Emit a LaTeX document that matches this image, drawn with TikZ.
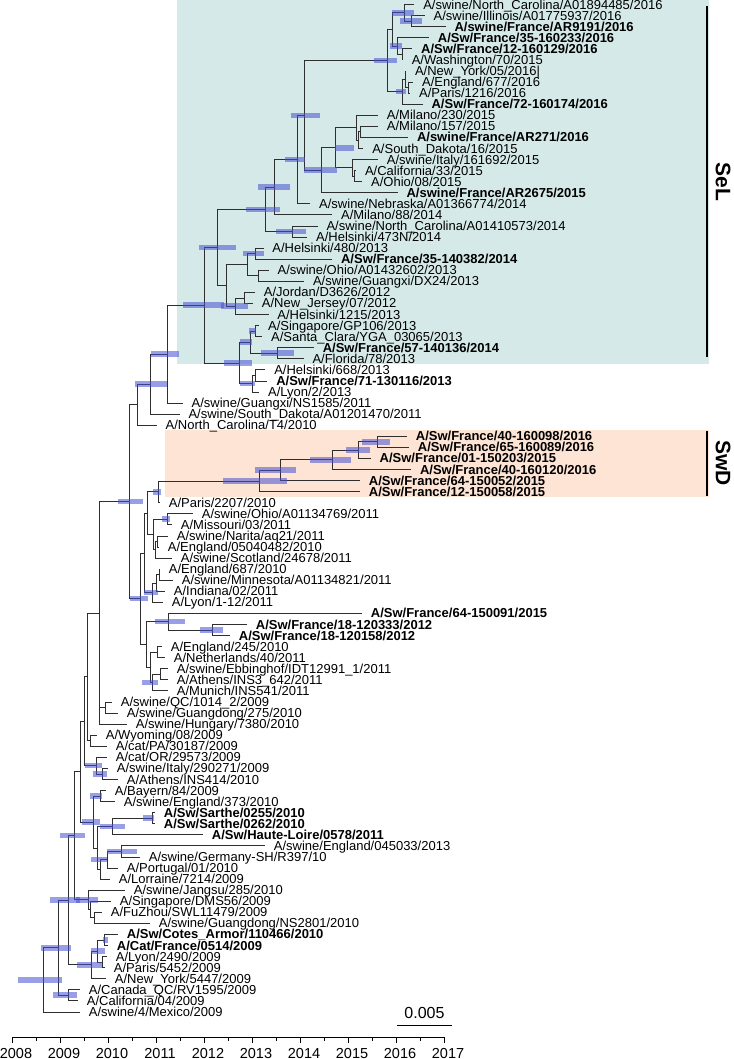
\documentclass[tikz,border=0pt]{standalone}
\usepackage{fontspec}
\setmainfont{Liberation Sans}
\usetikzlibrary{calc}
\definecolor{selbg}{HTML}{D5EAE8}
\definecolor{swdbg}{HTML}{FDE4D5}
\definecolor{hpdblue}{HTML}{4650D2}
\definecolor{branchgrey}{HTML}{2E2E2E}
\tikzset{
  every picture/.style={line width=0.8pt},
  branch/.style={draw=branchgrey, line width=0.7pt},
  hpd/.style={fill=hpdblue, fill opacity=0.55},
  leaf/.style={anchor=base west, inner sep=0pt, font=\fontsize{13}{13}\selectfont},
  swleaf/.style={leaf, font=\fontsize{13}{13}\selectfont\bfseries},
  cladebar/.style={line width=2.6pt},
  cladelab/.style={font=\fontsize{21}{21}\selectfont\bfseries, rotate=-90, inner sep=0pt},
  yearlab/.style={font=\fontsize{14.5}{14.5}\selectfont, inner sep=0pt},
  scalelab/.style={font=\fontsize{16}{16}\selectfont, inner sep=0pt},
}
% leaf row -> y in px
\newcommand{\ly}[1]{(4.5+11.07*(#1-1))}

\begin{document}
\begin{tikzpicture}[x=1pt, y=-1pt]
\useasboundingbox (0,0) rectangle (733,1059);

% clade highlights
\fill[selbg] (177,0) rectangle (709,364);
\fill[swdbg] (165,430) rectangle (709,497);

% tips and labels
\foreach \i/\tx/\st/\lab in {
  1/414.4/leaf/{A/swine/North\_Carolina/A01894485/2016},
  2/424.8/leaf/{A/swine/Illinois/A01775937/2016},
  3/445.6/swleaf/{A/swine/France/AR9191/2016},
  4/429/swleaf/{A/Sw/France/35-160233/2016},
  5/412.3/swleaf/{A/Sw/France/12-160129/2016},
  6/402.9/leaf/{A/Washington/70/2015},
  7/406.1/leaf/{A/New\_York/05/2016|},
  8/413.3/leaf/{A/England/677/2016},
  9/410.2/leaf/{A/Paris/1216/2016},
  10/422.7/swleaf/{A/Sw/France/72-160174/2016},
  11/378/leaf/{A/Milano/230/2015},
  12/378/leaf/{A/Milano/157/2015},
  13/408.1/swleaf/{A/swine/France/AR271/2016},
  14/363.4/leaf/{A/South\_Dakota/16/2015},
  15/378/leaf/{A/swine/Italy/161692/2015},
  16/356.1/leaf/{A/California/33/2015},
  17/362.3/leaf/{A/Ohio/08/2015},
  18/397.7/swleaf/{A/swine/France/AR2675/2015},
  19/310.3/leaf/{A/swine/Nebraska/A01366774/2014},
  20/332.2/leaf/{A/Milano/88/2014},
  21/317.6/leaf/{A/swine/North\_Carolina/A01410573/2014},
  22/307.2/leaf/{A/Helsinki/473N/2014},
  23/263.5/leaf/{A/Helsinki/480/2013},
  24/332.2/swleaf/{A/Sw/France/35-140382/2014},
  25/268.7/leaf/{A/swine/Ohio/A01432602/2013},
  26/304.1/leaf/{A/swine/Guangxi/DX24/2013},
  27/255/leaf/{A/Jordan/D3626/2012},
  28/253/leaf/{A/New\_Jersey/07/2012},
  29/268.5/leaf/{A/Helsinki/1215/2013},
  30/259.2/leaf/{A/Singapore/GP106/2013},
  31/262.3/leaf/{A/Santa\_Clara/YGA\_03065/2013},
  32/313.9/swleaf/{A/Sw/France/57-140136/2014},
  33/303.6/leaf/{A/Florida/78/2013},
  34/265.4/leaf/{A/Helsinki/668/2013},
  35/267.4/swleaf/{A/Sw/France/71-130116/2013},
  36/259.2/leaf/{A/Lyon/2/2013},
  37/182.7/leaf/{A/swine/Guangxi/NS1585/2011},
  38/179.6/leaf/{A/swine/South\_Dakota/A01201470/2011},
  39/156.8/leaf/{A/North\_Carolina/T4/2010},
  40/407/swleaf/{A/Sw/France/40-160098/2016},
  41/409/swleaf/{A/Sw/France/65-160089/2016},
  42/370.8/swleaf/{A/Sw/France/01-150203/2015},
  43/411.1/swleaf/{A/Sw/France/40-160120/2016},
  44/360/swleaf/{A/Sw/France/64-150052/2015},
  45/360/swleaf/{A/Sw/France/12-150058/2015},
  46/160/leaf/{A/Paris/2207/2010},
  47/193/leaf/{A/swine/Ohio/A01134769/2011},
  48/172/leaf/{A/Missouri/03/2011},
  49/168/leaf/{A/swine/Narita/aq21/2011},
  50/159/leaf/{A/England/05040482/2010},
  51/172/leaf/{A/swine/Scotland/24678/2011},
  52/160/leaf/{A/England/687/2010},
  53/173/leaf/{A/swine/Minnesota/A01134821/2011},
  54/165/leaf/{A/Indiana/02/2011},
  55/163/leaf/{A/Lyon/1-12/2011},
  56/362/swleaf/{A/Sw/France/64-150091/2015},
  57/247/swleaf/{A/Sw/France/18-120333/2012},
  58/230/swleaf/{A/Sw/France/18-120158/2012},
  59/162/leaf/{A/England/245/2010},
  60/165/leaf/{A/Netherlands/40/2011},
  61/168/leaf/{A/swine/Ebbinghof/IDT12991\_1/2011},
  62/168/leaf/{A/Athens/INS3\_642/2011},
  63/168/leaf/{A/Munich/INS541/2011},
  64/112/leaf/{A/swine/QC/1014\_2/2009},
  65/118/leaf/{A/swine/Guangdong/275/2010},
  66/127/leaf/{A/swine/Hungary/7380/2010},
  67/97/leaf/{A/Wyoming/08/2009},
  68/107/leaf/{A/cat/PA/30187/2009},
  69/107/leaf/{A/cat/OR/29573/2009},
  70/108/leaf/{A/swine/Italy/290271/2009},
  71/118/leaf/{A/Athens/INS414/2010},
  72/106/leaf/{A/Bayern/84/2009},
  73/115/leaf/{A/swine/England/373/2010},
  74/155/swleaf/{A/Sw/Sarthe/0255/2010},
  75/155/swleaf/{A/Sw/Sarthe/0262/2010},
  76/203/swleaf/{A/Sw/Haute-Loire/0578/2011},
  77/265/leaf/{A/swine/England/045033/2013},
  78/140/leaf/{A/swine/Germany-SH/R397/10},
  79/118/leaf/{A/Portugal/01/2010},
  80/110/leaf/{A/Lorraine/7214/2009},
  81/125/leaf/{A/swine/Jangsu/285/2010},
  82/111/leaf/{A/Singapore/DMS56/2009},
  83/102/leaf/{A/FuZhou/SWL11479/2009},
  84/150/leaf/{A/swine/Guangdong/NS2801/2010},
  85/118/swleaf/{A/Sw/Cotes\_Armor/110466/2010},
  86/108/swleaf/{A/Cat/France/0514/2009},
  87/107/leaf/{A/Lyon/2490/2009},
  88/105/leaf/{A/Paris/5452/2009},
  89/106/leaf/{A/New\_York/5447/2009},
  90/80/leaf/{A/Canada\_QC/RV1595/2009},
  91/78/leaf/{A/California/04/2009},
  92/80/leaf/{A/swine/4/Mexico/2009}}{
  \coordinate (t\i) at (\tx,{\ly{\i}});
  \node[\st] (l\i) at ([xshift=8.5pt,yshift=-4.6pt]t\i) {\lab};
}

% internal nodes: name / x / row
\foreach \nm/\px/\py in {
  a1/404/1.75, a2/411.3/2.5, a3/397.7/4.75, a4/401.9/5.5, a13/392.5/3.25,
  a7/408.1/8.5, a8/405/7.75, a6/401.9/8.875, a5/387.3/6.0625,
  b6/360.3/12.5, b7/358.2/13.25, b4/356.1/12.125, b8/354/16.5, b5/351.9/15.75,
  b3/335.3/13.9375, b2/321.7/15.969, b1/304.1/11.016,
  c1/297.8/15.008, c2/273.9/17.504, c4/292.6/21.5, c3/265.5/19.502, c9/255.1/23.5,
  c10/258.3/25.5, c11/247.8/24.5, c13/244.7/27.5, c12/235.4/28.25, c8/226.1/26.375,
  c5/217.7/22.939, c18/255/30.5, c20/277.8/32.5, c19/249.9/31.5, c23/255/34.5,
  c22/251.9/35.25, c21/239.5/33.375, sel/204.4/28.157,
  u1/167.2/32.579, u2/150.6/35.289, u3/137.2/37.145, v0/128.9/45.910,
  d1/377/40.5, d2/358.4/41.25, d3/332.5/42.125, d4/280/43.063, d5/259/44.031,
  p1/158/45.016, p4/167/47.5, p5/157/49.5, p8/155/50.25, p3/153/48.875,
  p2/147/46.945, p9/159/52.5, p10/156/53.25, p11/152/54.125, p12/144/50.535,
  q2/212/57.5, q1/168/56.75, q10/157/59.5, q5/160/61.5, q6/152/62.25,
  q4/150/60.875, q3/146/58.813, z0/140/54.674,
  w3/105/64.5, w0/99/55.955, y1/90/67.5, y2/87/61.728, y3/102/70.5,
  y4/96/69.75, y14/84/65.739, y5/100/72.5, y6/152/74.5, y7/112/75.25,
  y8/121/77.5, y9/107/78.25, y10/100/79.125, y12/97/77.188, y11/93/74.844,
  y13/80/70.292, as3/94/83.5, as2/90/82.75, as1/88/81.875, x0/74/76.084,
  ce1/104/85.5, ce2/102/87.5, ce3/97/86.5, ce0/91/87.75, n2/68/81.917,
  cc/68/90.5, n1/58/86.209, root/43/89.104}
  \coordinate (\nm) at (\px,{\ly{\py}});

% branches
\foreach \p/\c in {
  a1/t1, a1/a2, a2/t2, a2/t3, a3/t4, a3/a4, a4/t5, a4/t6, a13/a1, a13/a3,
  a7/t8, a7/t9, a8/t7, a8/a7, a6/a8, a6/t10, a5/a13, a5/a6,
  b6/t12, b6/t13, b7/b6, b7/t14, b4/t11, b4/b7, b8/t16, b8/t17, b5/t15, b5/b8,
  b3/b4, b3/b5, b2/b3, b2/t18, b1/a5, b1/b2,
  c1/b1, c1/t19, c2/c1, c2/t20, c4/t21, c4/t22, c3/c2, c3/c4, c9/t23, c9/t24,
  c10/t25, c10/t26, c11/c9, c11/c10, c13/t27, c13/t28, c12/c13, c12/t29,
  c8/c11, c8/c12, c5/c3, c5/c8, c18/t30, c18/t31, c20/t32, c20/t33,
  c19/c18, c19/c20, c23/t34, c23/t35, c22/c23, c22/t36, c21/c19, c21/c22,
  sel/c5, sel/c21, u1/sel, u1/t37, u2/u1, u2/t38, u3/u2, u3/t39,
  d1/t40, d1/t41, d2/d1, d2/t42, d3/d2, d3/t43, d4/d3, d4/t44, d5/d4, d5/t45,
  p1/d5, p1/t46, p4/t47, p4/t48, p5/t49, p5/t50, p8/p5, p8/t51, p3/p4, p3/p8,
  p2/p1, p2/p3, p9/t52, p9/t53, p10/p9, p10/t54, p11/p10, p11/t55,
  p12/p2, p12/p11, q2/t57, q2/t58, q1/t56, q1/q2, q10/t59, q10/t60,
  q5/t61, q5/t62, q6/q5, q6/t63, q4/q10, q4/q6, q3/q1, q3/q4,
  z0/p12, z0/q3, v0/u3, v0/z0,
  w3/t64, w3/t65, w0/v0, w0/w3, w0/t66, y1/t67, y1/t68, y2/w0, y2/y1,
  y3/t70, y3/t71, y4/t69, y4/y3, y14/y2, y14/y4, y5/t72, y5/t73,
  y6/t74, y6/t75, y7/y6, y7/t76, y8/t77, y8/t78, y9/y8, y9/t79,
  y10/y9, y10/t80, y12/y7, y12/y10, y11/y5, y11/y12, y13/y14, y13/y11,
  as3/t83, as3/t84, as2/t82, as2/as3, as1/t81, as1/as2, x0/y13, x0/as1,
  ce1/t85, ce1/t86, ce2/t87, ce2/t88, ce3/ce1, ce3/ce2, ce0/ce3, ce0/t89,
  n2/x0, n2/ce0, cc/t90, cc/t91, n1/n2, n1/cc, root/n1, root/t92}
  \draw[branch] (\p) |- (\c);

% node height bars
\foreach \nd/\lo/\hi in {
  a1/391.5/414.4, a2/399.8/421.7, a3/390.4/401.9, a5/373.8/396.7,
  a6/395.7/406.1, b1/290.5/319.7, b2/304.1/337.4, b3/335.3/354,
  c1/285.3/305.1, c2/258.3/289.5, c3/245.8/280.1, c4/275.9/306.1,
  c5/198.9/236.4, c9/242.6/263.5, c12/220.9/247.8, sel/182.7/224,
  c18/248.8/256.1, c19/239.5/251.9, c20/261.2/294.3, c21/224/251.9,
  c22/239.5/255, u1/150.6/178.5, u2/135.1/167.2, v0/117.6/143.4,
  d1/361.5/390.4, d2/346/369.7, d3/309.8/351.1, d4/254.6/295.8, d5/223/287,
  p1/153/161, p4/162/170, p11/144/158, z0/130/148, q1/155/185, q2/200/223,
  q6/142/158, y3/93/107, y4/85/102, y5/90/102, y6/143/154, y7/100/125,
  y8/107/137, y9/91/107, y11/82/100, x0/60/85, as1/76/98, n2/50/80,
  ce0/77/102, ce3/91/105, ce1/103/108, n1/41/71, cc/53/77, root/18/62}
  \fill[hpd] let \p1=(\nd) in (\lo pt,\y1-2.8pt) rectangle (\hi pt,\y1+2.8pt);

% clade bars
\coordinate (selTop) at (707,6);
\coordinate (selBot) at (707,357);
\coordinate (swdTop) at (707,431);
\coordinate (swdBot) at (707,496);
\draw[cladebar] (selTop) -- (selBot);
\draw[cladebar] (swdTop) -- (swdBot);
\node[cladelab] (sellab) at (723,182) {SeL};
\node[cladelab] (swdlab) at (723,463) {SwD};

% time axis
\draw (12,1037) -- (444,1037);
\foreach \k in {0,...,9}{
  \draw ({12+48*\k},1037) -- ++(0,6);
  \pgfmathtruncatemacro\yr{2008+\k}
  \node[yearlab] (yr\k) at ({16+48*\k},1053) {\yr};
}
\foreach \k in {0,...,8}
  \draw ({36+48*\k},1037) -- ++(0,3.5);

% scale bar
\coordinate (sbL) at (397,1025);
\coordinate (sbR) at (452,1025);
\draw (sbL) -- (sbR);
\node[scalelab] (sblab) at (424.5,1013) {0.005};
\end{tikzpicture}
\end{document}
